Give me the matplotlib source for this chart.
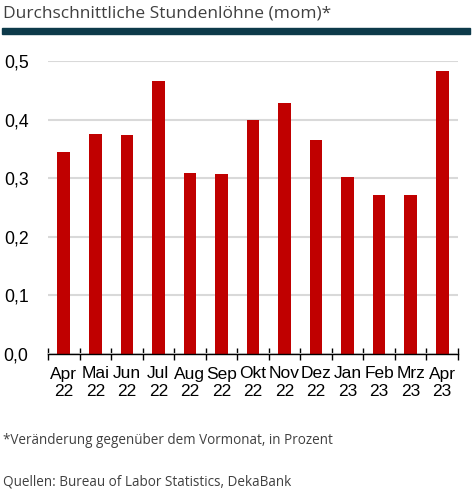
import matplotlib
matplotlib.use("Agg")
import matplotlib.pyplot as plt
import numpy as np

months = ["Apr", "Mai", "Jun", "Jul", "Aug", "Sep", "Okt", "Nov", "Dez", "Jan", "Feb", "Mrz", "Apr"]
years = ["22", "22", "22", "22", "22", "22", "22", "22", "22", "23", "23", "23", "23"]
values = [0.345, 0.375, 0.374, 0.466, 0.309, 0.307, 0.400, 0.429, 0.366, 0.302, 0.272, 0.271, 0.483]
yticks = [0.0, 0.1, 0.2, 0.3, 0.4, 0.5]
ytick_labels = ["0,0", "0,1", "0,2", "0,3", "0,4", "0,5"]

W, H = 473, 492
fig = plt.figure(figsize=(W / 100, H / 100), dpi=100)

ax = fig.add_axes([48 / W, 1 - 354 / H, 410 / W, (354 - 61) / H])
x = np.arange(len(values))
ax.bar(x, values, width=0.4, color="#c00000", zorder=3)
ax.set_xlim(-0.5, len(values) - 0.5)
ax.set_ylim(0, 0.5)
ax.set_yticks(yticks)
ax.set_yticklabels(ytick_labels, family="Liberation Sans", fontsize=12.7)
ax.yaxis.grid(True, color="#d9d9d9", linewidth=1.5, zorder=0)
ax.tick_params(axis="y", length=0, pad=14)
ax.set_xticks(x)
ax.set_xticklabels([f"{m}\n{y}" for m, y in zip(months, years)],
                   family="Liberation Sans", fontsize=12.5, linespacing=1.25)
ax.tick_params(axis="x", length=0, pad=9)
ax.set_xticks(np.arange(-0.5, len(values)), minor=True)
ax.tick_params(axis="x", which="minor", length=9, direction="inout", width=1, color="black")
for s in ["top", "right", "left"]:
    ax.spines[s].set_visible(False)
ax.spines["bottom"].set_color("black")
ax.spines["bottom"].set_linewidth(1)
ax.spines["bottom"].set_zorder(4)

fig.text(3 / W, 1 - 13 / H, "Durchschnittliche Stundenlöhne (mom)*", family="Open Sans",
         fontsize=12.5, color="#404040", va="center", ha="left")
fig.patches.append(plt.Rectangle((2 / W, 1 - 33.5 / H), 468 / W, 5.5 / H,
                                 transform=fig.transFigure, color="#0d3a4a"))
fig.text(3 / W, 1 - 440 / H, "*Veränderung gegenüber dem Vormonat, in Prozent", family="Open Sans",
         fontsize=9.75, color="#404040", va="center", ha="left")
fig.text(3 / W, 1 - 482 / H, "Quellen: Bureau of Labor Statistics, DekaBank", family="Open Sans",
         fontsize=9.75, color="#404040", va="center", ha="left")

fig.savefig("out.png", dpi=100)
